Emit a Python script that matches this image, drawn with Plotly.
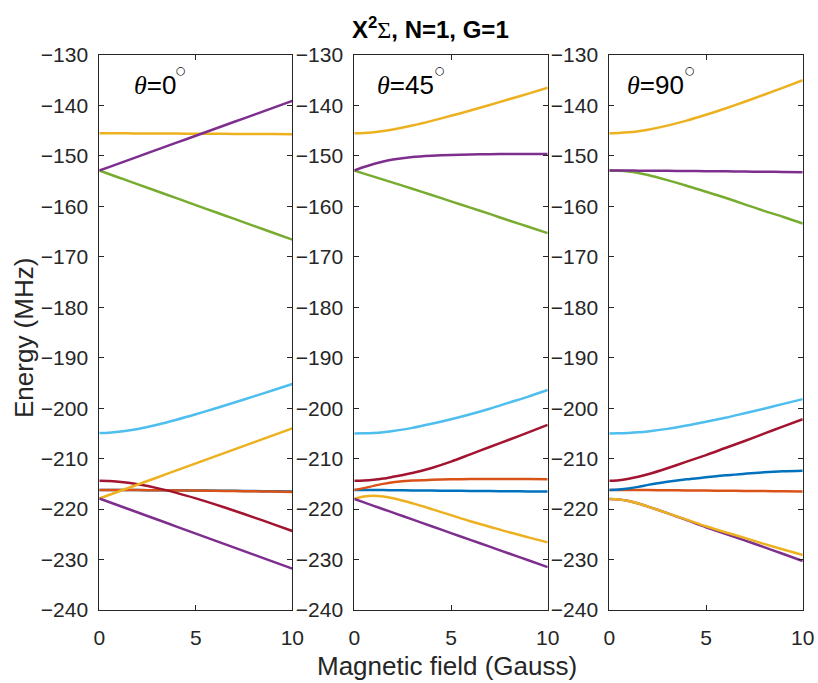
import plotly.graph_objects as go

W, H = 818, 683

# Magnetic field sample points (Gauss)
B = [0, 0.5, 1, 1.5, 2, 3, 4, 5, 6, 7, 8, 9, 10]

# Panel angles
angles = ["0", "45", "90"]

# Colours (MATLAB default order)
C_BLUE = "#0072BD"
C_ORANGE = "#D95319"
C_YELLOW = "#EDB120"
C_PURPLE = "#7E2F8E"
C_GREEN = "#77AC30"
C_LBLUE = "#4DBEEE"
C_RED = "#A2142F"

# ---------- theta = 0 ----------
p1_blue = [-216.2, -216.21, -216.22, -216.23, -216.24, -216.26, -216.29, -216.32, -216.35, -216.38, -216.42, -216.46, -216.5]
p1_orange = [-216.2, -216.21, -216.22, -216.23, -216.24, -216.27, -216.3, -216.34, -216.38, -216.42, -216.47, -216.52, -216.6]
p1_red = [-214.4, -214.44, -214.58, -214.79, -215.08, -215.84, -216.79, -217.88, -219.07, -220.33, -221.63, -222.97, -224.35]
p1_lblue = [-204.9, -204.85, -204.69, -204.44, -204.11, -203.27, -202.28, -201.2, -200.06, -198.88, -197.67, -196.44, -195.2]
p1_yellow_lo = [-217.9, -217.21, -216.51, -215.82, -215.12, -213.73, -212.34, -210.95, -209.56, -208.17, -206.78, -205.39, -204.0]
p1_purple_lo = [-217.9, -218.6, -219.29, -219.99, -220.68, -222.07, -223.46, -224.85, -226.24, -227.63, -229.02, -230.41, -231.8]
p1_green = [-152.9, -153.59, -154.27, -154.96, -155.64, -157.01, -158.38, -159.75, -161.12, -162.49, -163.86, -165.23, -166.6]
p1_yellow_hi = [-145.5, -145.51, -145.52, -145.53, -145.54, -145.56, -145.58, -145.6, -145.62, -145.64, -145.66, -145.68, -145.7]
p1_purple_hi = [-152.9, -152.21, -151.52, -150.83, -150.14, -148.76, -147.38, -146.0, -144.62, -143.24, -141.86, -140.48, -139.1]

# ---------- theta = 45 ----------
p2_blue = [-216.2, -216.2, -216.22, -216.24, -216.26, -216.3, -216.33, -216.36, -216.4, -216.43, -216.46, -216.5, -216.5]
p2_orange = [-216.2, -215.85, -215.4, -215.0, -214.7, -214.35, -214.2, -214.1, -214.05, -214.05, -214.05, -214.05, -214.1]
p2_red = [-214.4, -214.35, -214.2, -213.95, -213.6, -212.85, -211.85, -210.6, -209.15, -207.7, -206.25, -204.8, -203.3]
p2_lblue = [-205.0, -204.98, -204.9, -204.75, -204.5, -203.9, -203.1, -202.2, -201.2, -200.1, -198.9, -197.7, -196.4]
p2_yellow_lo = [-218.0, -217.5, -217.35, -217.5, -217.85, -218.85, -220.0, -221.2, -222.4, -223.5, -224.6, -225.6, -226.6]
p2_purple_lo = [-218.0, -218.68, -219.35, -220.03, -220.7, -222.05, -223.4, -224.75, -226.1, -227.45, -228.8, -230.15, -231.5]
p2_green = [-152.9, -153.5, -154.1, -154.7, -155.3, -156.5, -157.75, -159.0, -160.25, -161.5, -162.8, -164.05, -165.3]
p2_yellow_hi = [-145.5, -145.45, -145.3, -145.06, -144.76, -143.98, -143.06, -142.05, -141.0, -139.9, -138.78, -137.65, -136.5]
p2_purple_hi = [-152.9, -152.2, -151.6, -151.1, -150.7, -150.2, -149.95, -149.8, -149.72, -149.66, -149.62, -149.6, -149.6]

# ---------- theta = 90 ----------
p3_orange = [-216.2, -216.21, -216.22, -216.23, -216.24, -216.27, -216.3, -216.33, -216.36, -216.4, -216.43, -216.47, -216.5]
p3_blue = [-216.2, -216.1, -215.9, -215.6, -215.2, -214.6, -214.1, -213.7, -213.3, -213.0, -212.7, -212.5, -212.4]
p3_red = [-214.4, -214.3, -214.0, -213.6, -213.1, -211.9, -210.6, -209.3, -207.9, -206.5, -205.05, -203.6, -202.2]
p3_lblue = [-205.0, -204.98, -204.9, -204.78, -204.6, -204.1, -203.45, -202.7, -201.9, -201.0, -200.1, -199.15, -198.2]
p3_purple_lo = [-218.0, -218.1, -218.4, -218.9, -219.5, -220.8, -222.2, -223.6, -224.9, -226.2, -227.55, -228.9, -230.3]
p3_yellow_lo = [-218.0, -218.1, -218.4, -218.9, -219.5, -220.8, -222.1, -223.4, -224.6, -225.7, -226.9, -228.0, -229.1]
p3_green = [-152.9, -152.95, -153.1, -153.4, -153.8, -154.8, -155.9, -157.1, -158.3, -159.6, -160.9, -162.1, -163.4]
p3_purple_hi = [-152.9, -152.9, -152.91, -152.92, -152.93, -152.96, -152.99, -153.02, -153.06, -153.1, -153.14, -153.18, -153.22]
p3_yellow_hi = [-145.5, -145.45, -145.32, -145.10, -144.80, -144.0, -143.0, -141.85, -140.6, -139.26, -137.88, -136.46, -135.0]

panels = [
    [(p1_blue, C_BLUE), (p1_orange, C_ORANGE), (p1_red, C_RED), (p1_lblue, C_LBLUE),
     (p1_yellow_lo, C_YELLOW), (p1_purple_lo, C_PURPLE), (p1_green, C_GREEN),
     (p1_yellow_hi, C_YELLOW), (p1_purple_hi, C_PURPLE)],
    [(p2_blue, C_BLUE), (p2_orange, C_ORANGE), (p2_red, C_RED), (p2_lblue, C_LBLUE),
     (p2_yellow_lo, C_YELLOW), (p2_purple_lo, C_PURPLE), (p2_green, C_GREEN),
     (p2_yellow_hi, C_YELLOW), (p2_purple_hi, C_PURPLE)],
    [(p3_orange, C_ORANGE), (p3_blue, C_BLUE), (p3_red, C_RED), (p3_lblue, C_LBLUE),
     (p3_purple_lo, C_PURPLE), (p3_yellow_lo, C_YELLOW), (p3_green, C_GREEN),
     (p3_purple_hi, C_PURPLE), (p3_yellow_hi, C_YELLOW)],
]

y_ticks = [-240, -230, -220, -210, -200, -190, -180, -170, -160, -150, -140, -130]
x_ticks = [0, 5, 10]

fig = go.Figure()

for i, lines in enumerate(panels):
    xa = "x" if i == 0 else f"x{i+1}"
    ya = "y" if i == 0 else f"y{i+1}"
    for vals, col in lines:
        fig.add_trace(go.Scatter(
            x=B, y=vals, xaxis=xa, yaxis=ya, mode="lines",
            line=dict(color=col, width=2.5, shape="spline", smoothing=0.8),
            showlegend=False, hoverinfo="skip"))

AX = "#262626"
tickfont = dict(family="Liberation Sans, Arial, sans-serif", size=21, color=AX)
xdoms = [(99.3, 292.3), (354.3, 547.7), (609.3, 802.7)]
ydom = [1 - 610 / H, 1 - 55 / H]

layout = dict(
    width=W, height=H,
    margin=dict(l=0, r=0, t=0, b=0, autoexpand=False),
    paper_bgcolor="white", plot_bgcolor="white",
    showlegend=False,
)
for i, (a, b) in enumerate(xdoms):
    xk = "xaxis" if i == 0 else f"xaxis{i+1}"
    yk = "yaxis" if i == 0 else f"yaxis{i+1}"
    yname = "y" if i == 0 else f"y{i+1}"
    xname = "x" if i == 0 else f"x{i+1}"
    layout[xk] = dict(
        domain=[a / W, b / W], anchor=yname, range=[0, 10],
        tickvals=x_ticks, ticks="inside", ticklen=5, tickwidth=1, tickcolor=AX,
        showline=True, linecolor=AX, linewidth=1, mirror="allticks",
        showgrid=False, zeroline=False, tickfont=tickfont, ticklabelstandoff=9,
        automargin=False,
    )
    layout[yk] = dict(
        domain=ydom, anchor=xname, range=[-240, -130],
        tickvals=y_ticks, ticks="inside", ticklen=5, tickwidth=1, tickcolor=AX,
        showline=True, linecolor=AX, linewidth=1, mirror="allticks",
        showgrid=False, zeroline=False, tickfont=tickfont, ticklabelstandoff=6,
        automargin=False,
    )

fig.update_layout(**layout)

serif = "Liberation Serif, Times New Roman, serif"
label_x = [132.0, 375.0, 625.0]
deg_x = [180.5, 440.0, 689.5]
for i, ang in enumerate(angles):
    fig.add_annotation(
        x=label_x[i] / W, y=1 - 85 / H, xref="paper", yref="paper",
        xanchor="left", yanchor="middle", showarrow=False,
        text=f'<span style="font-family:{serif}"><i>θ</i></span>={ang}',
        font=dict(family="Liberation Sans, Arial, sans-serif", size=26, color="black"),
    )
    fig.add_annotation(
        x=deg_x[i] / W, y=1 - 71 / H, xref="paper", yref="paper",
        xanchor="center", yanchor="middle", showarrow=False,
        text="○",
        font=dict(family="DejaVu Sans", size=11, color="black"),
    )

fig.add_annotation(
    x=431 / W, y=1 - 28 / H, xref="paper", yref="paper",
    xanchor="center", yanchor="middle", showarrow=False,
    text=f'<b>X<sup>2</sup></b><span style="font-family:{serif}">Σ</span><b>, N=1, G=1</b>',
    font=dict(family="Liberation Sans, Arial, sans-serif", size=24, color="black"),
)
fig.add_annotation(
    x=447 / W, y=1 - 666 / H, xref="paper", yref="paper",
    xanchor="center", yanchor="middle", showarrow=False,
    text="Magnetic field (Gauss)",
    font=dict(family="Liberation Sans, Arial, sans-serif", size=26, color=AX),
)
fig.add_annotation(
    x=24 / W, y=1 - 338 / H, xref="paper", yref="paper",
    xanchor="center", yanchor="middle", showarrow=False, textangle=-90,
    text="Energy (MHz)",
    font=dict(family="Liberation Sans, Arial, sans-serif", size=26, color=AX),
)

fig.write_html("out.html")
